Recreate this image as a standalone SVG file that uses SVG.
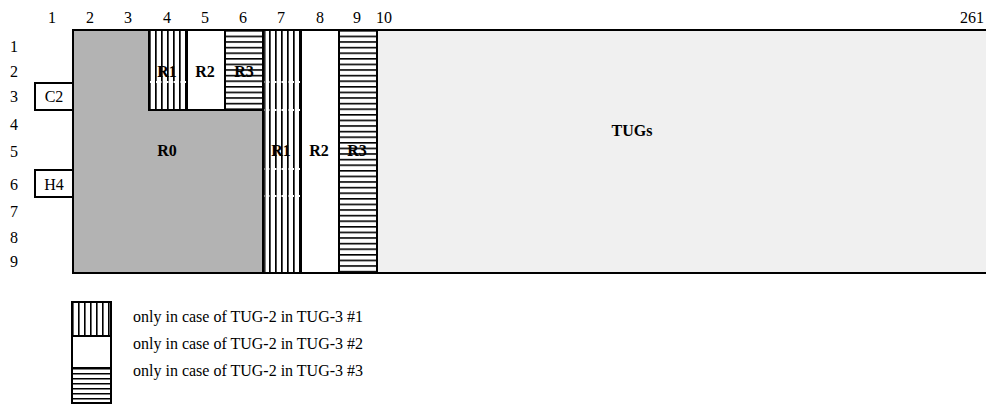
<svg xmlns="http://www.w3.org/2000/svg" width="986" height="406" viewBox="0 0 986 406">
<style>
text{font-family:"Liberation Serif","Times New Roman",serif;font-size:16px;fill:#000}
.b{font-weight:bold}
.m{text-anchor:middle}
.bd{fill:none;stroke:#000;stroke-width:2}
.ln{stroke:#000;stroke-width:2}
.wd{stroke:#fff;stroke-width:2;stroke-dasharray:2 1.5}
</style>
<defs>
<pattern id="vs" patternUnits="userSpaceOnUse" x="149" y="0" width="6" height="10">
<rect width="6" height="10" fill="#fff"/>
<rect x="0" y="0" width="1.7" height="10" fill="#000"/>
</pattern>
<pattern id="hs" patternUnits="userSpaceOnUse" x="0" y="30" width="10" height="5.6">
<rect width="10" height="5.6" fill="#fff"/>
<rect x="0" y="0" width="10" height="1.6" fill="#000"/>
</pattern>
<pattern id="vsl" patternUnits="userSpaceOnUse" x="72" y="0" width="6" height="10">
<rect width="6" height="10" fill="#fff"/>
<rect x="0" y="0" width="1.6" height="10" fill="#000"/>
</pattern>
<pattern id="hsl" patternUnits="userSpaceOnUse" x="0" y="368" width="10" height="5">
<rect width="10" height="5" fill="#fff"/>
<rect x="0" y="0" width="10" height="1.5" fill="#000"/>
</pattern>
</defs>

<g id="column-numbers">
<text class="m" x="52" y="23">1</text>
<text class="m" x="90" y="23">2</text>
<text class="m" x="128" y="23">3</text>
<text class="m" x="167" y="23">4</text>
<text class="m" x="205" y="23">5</text>
<text class="m" x="243" y="23">6</text>
<text class="m" x="281" y="23">7</text>
<text class="m" x="320" y="23">8</text>
<text class="m" x="357" y="23">9</text>
<text x="376" y="23">10</text>
<text x="984" y="23" text-anchor="end">261</text>
</g>

<g id="row-numbers">
<text class="m" x="14" y="52">1</text>
<text class="m" x="14" y="77">2</text>
<text class="m" x="14" y="102">3</text>
<text class="m" x="14" y="130">4</text>
<text class="m" x="14" y="157">5</text>
<text class="m" x="14" y="190">6</text>
<text class="m" x="14" y="217">7</text>
<text class="m" x="14" y="243">8</text>
<text class="m" x="14" y="267">9</text>
</g>

<g id="tugs">
<rect x="377" y="30" width="609" height="243" fill="#f0f0f0"/>
<text class="b m" x="632" y="136">TUGs</text>
</g>

<g id="r0">
<polygon points="73,30 149,30 149,110 263,110 263,273 73,273" fill="#b3b3b3"/>
<text class="b m" x="167" y="156">R0</text>
</g>

<g id="top-r1">
<rect x="149" y="30" width="38" height="80" fill="url(#vs)"/>
<line class="wd" x1="149" y1="82" x2="186" y2="82"/>
<text class="b m" x="167" y="77">R1</text>
</g>
<g id="top-r2">
<rect x="187" y="30" width="38" height="80" fill="#fff"/>
<text class="b m" x="205" y="77">R2</text>
</g>
<g id="top-r3">
<rect x="225" y="30" width="38" height="80" fill="url(#hs)"/>
<text class="b m" x="244" y="77">R3</text>
</g>

<g id="col-r1">
<rect x="263" y="30" width="38" height="243" fill="url(#vs)"/>
<line class="wd" x1="264" y1="82" x2="340" y2="82"/>
<line class="wd" x1="264" y1="110" x2="300" y2="110"/>
<line class="wd" x1="264" y1="169" x2="340" y2="169"/>
<line class="wd" x1="264" y1="196" x2="300" y2="196"/>
<text class="b m" x="281" y="156">R1</text>
</g>
<g id="col-r2">
<rect x="301" y="30" width="38" height="243" fill="#fff"/>
<text class="b m" x="319" y="156">R2</text>
</g>
<g id="col-r3">
<rect x="339" y="30" width="38" height="243" fill="url(#hs)"/>
<text class="b m" x="357" y="156">R3</text>
</g>

<g id="frame">
<line class="ln" x1="72" y1="30" x2="986" y2="30"/>
<line class="ln" x1="72" y1="273" x2="986" y2="273"/>
<line class="ln" x1="73" y1="29" x2="73" y2="274"/>
<line class="ln" x1="149" y1="30" x2="149" y2="110"/>
<line class="ln" x1="187" y1="30" x2="187" y2="110"/>
<line class="ln" x1="225" y1="30" x2="225" y2="110"/>
<line class="ln" x1="148" y1="110" x2="263" y2="110"/>
<line class="ln" x1="263" y1="30" x2="263" y2="273"/>
<line x1="265" y1="30" x2="265" y2="273" stroke="#000" stroke-width="1"/>
<line class="ln" x1="301" y1="30" x2="301" y2="273"/>
<line class="ln" x1="339" y1="30" x2="339" y2="273"/>
<line class="ln" x1="377" y1="30" x2="377" y2="273"/>
</g>

<g id="c2">
<rect class="bd" x="35" y="83" width="38" height="27"/>
<text class="m" x="54" y="102">C2</text>
</g>
<g id="h4">
<rect class="bd" x="35" y="170" width="38" height="27"/>
<text class="m" x="54" y="190">H4</text>
</g>

<g id="legend">
<rect x="72" y="302" width="39" height="34" fill="url(#vsl)"/>
<rect x="72" y="336" width="39" height="32" fill="#fff"/>
<rect x="72" y="368" width="39" height="35" fill="url(#hsl)"/>
<rect class="bd" x="72" y="302" width="39" height="101"/>
<line class="ln" x1="72" y1="336" x2="111" y2="336"/>
<line class="ln" x1="72" y1="368" x2="111" y2="368"/>
<text x="133" y="322">only in case of TUG-2 in TUG-3 #1</text>
<text x="133" y="349">only in case of TUG-2 in TUG-3 #2</text>
<text x="133" y="376">only in case of TUG-2 in TUG-3 #3</text>
</g>
</svg>
